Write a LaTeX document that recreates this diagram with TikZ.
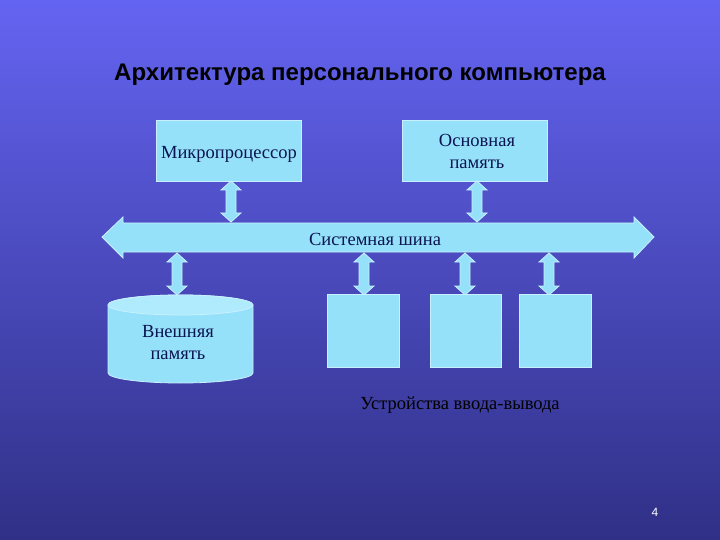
\documentclass[tikz,border=0pt]{standalone}
\usepackage{fontspec}
\setmainfont{Liberation Serif}
\newfontfamily\titlefont{Liberation Sans}
\begin{document}
\begin{tikzpicture}[x=1pt,y=-1pt,
  fillc/.style={fill={rgb,255:red,150;green,225;blue,250},draw={rgb,255:red,200;green,240;blue,255},line width=0.8pt},
  lbl/.style={font=\fontsize{18.5}{22}\selectfont,text={rgb,255:red,10;green,20;blue,80},align=center}]
\shade[top color={rgb,255:red,100;green,100;blue,242},bottom color={rgb,255:red,48;green,48;blue,135}] (0,0) rectangle (720,540);
\useasboundingbox (0,0) rectangle (720,540);
\node[font=\titlefont\bfseries\fontsize{24}{26}\selectfont,text=black] (title) at (360,75) {Архитектура персонального компьютера};
% boxes
\draw[fillc] (156,120) rectangle (301,181);
\node[lbl] (mp) at (229,154) {Микропроцессор};
\draw[fillc] (402,120) rectangle (547,181);
\node[lbl] (mm) at (477,151) {Основная\\память};
% bus
\draw[fillc] (102,237) -- (123,217) -- (123,223) -- (634,223) -- (634,217) -- (654,237) -- (634,258) -- (634,252) -- (123,252) -- (123,258) -- cycle;
\node[lbl] (bus) at (375,239) {Системная шина};
% vertical arrows
\foreach \x/\a/\b in {231/181/222,477/181/222,177/253/295,364/253/295,465/253/295,549/253/295}{
  \draw[fillc] (\x,\a) -- (\x+10,\a+9) -- (\x+5,\a+9) -- (\x+5,\b-9) -- (\x+10,\b-9) -- (\x,\b) -- (\x-10,\b-9) -- (\x-5,\b-9) -- (\x-5,\a+9) -- (\x-10,\a+9) -- cycle;
}
% cylinder
\draw[fillc] (108,305) -- (108,373) arc[start angle=180,end angle=0,x radius=72.5,y radius=10] -- (253,305) arc[start angle=0,end angle=-180,x radius=72.5,y radius=10];
\draw[fillc,fill={rgb,255:red,175;green,235;blue,252}] (180.5,305) ellipse[x radius=72.5,y radius=10];
\node[lbl] (ext) at (178,343) {Внешняя\\память};
% io
\draw[fillc] (327,294) rectangle (399,367);
\draw[fillc] (430,294) rectangle (501,367);
\draw[fillc] (519,294) rectangle (591,367);
\node[lbl,text=black] (io) at (460,405) {Устройства ввода-вывода};
\node[font=\titlefont\fontsize{12}{14}\selectfont,text=white] (pg) at (655,512) {4};
\end{tikzpicture}
\end{document}
